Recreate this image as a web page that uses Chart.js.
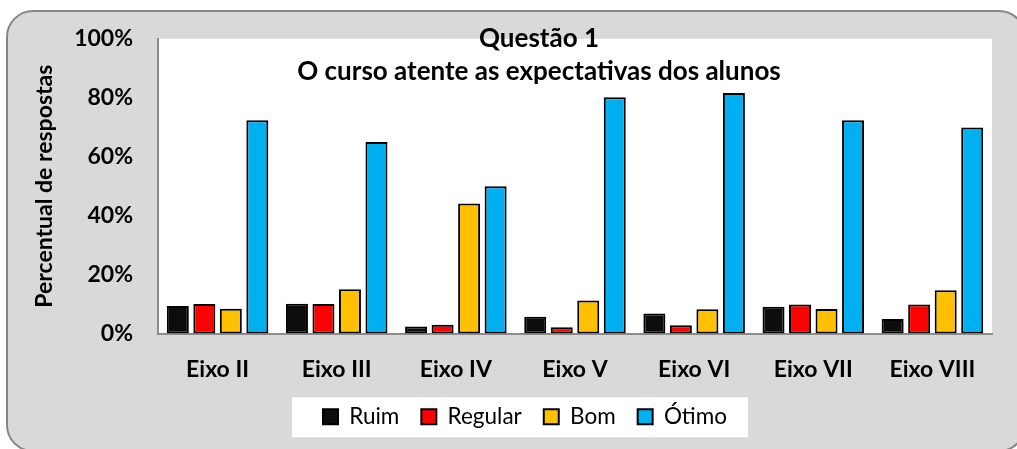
<!DOCTYPE html>
<html lang="pt">
<head>
<meta charset="utf-8">
<title>Questão 1</title>
<script src="https://cdn.jsdelivr.net/npm/chart.js@4/dist/chart.umd.min.js"></script>
<style>
  html, body { margin: 0; padding: 0; background: #fff; }
  #wrap { position: relative; width: 1017px; height: 449px; }
</style>
</head>
<body>
<div id="wrap"><canvas id="chart"></canvas></div>
<script>
// categories and series (percent of answers)
const eixos = ['Eixo II', 'Eixo III', 'Eixo IV', 'Eixo V', 'Eixo VI', 'Eixo VII', 'Eixo VIII']
const ruim = [9.3, 10.1, 2.4, 5.7, 6.8, 9.1, 4.9]
const regular = [10, 10, 3.0, 2.1, 2.8, 9.8, 9.8]
const bom = [8.4, 15, 44.1, 11.2, 8.2, 8.3, 14.7]
const otimo = [72.4, 65, 50, 80.2, 81.6, 72.4, 69.9]
const yTicks = [0, 20, 40, 60, 80, 100]
const titleLines = ['Questão 1', 'O curso atente as expectativas dos alunos']

const FONT = 'Lato, "Open Sans", sans-serif'

// grey rounded frame + white plot area + white legend box
const framePlugin = {
  id: 'frame',
  afterLayout(chart) {
    // legend sits a bit right of the canvas centre in the original
    const lg = chart.legend
    if (lg) { lg.left += 25; lg.right += 25 }
  },
  beforeDraw(chart) {
    const ctx = chart.ctx
    const a = chart.chartArea
    ctx.save()
    ctx.beginPath()
    ctx.roundRect(7, 11, 1018, 440, 26)
    ctx.fillStyle = '#d9d9d9'
    ctx.fill()
    ctx.lineWidth = 2
    ctx.strokeStyle = '#868686'
    ctx.stroke()
    ctx.fillStyle = '#ffffff'
    ctx.fillRect(a.left, a.top, a.right - a.left, a.bottom - a.top)

    const boxes = chart.legend && chart.legend.legendHitBoxes
    if (boxes && boxes.length) {
      const first = boxes[0]
      const last = boxes[boxes.length - 1]
      const cy = first.top + first.height / 2
      ctx.fillRect(first.left - 31, cy - 19.5, last.left + last.width - first.left + 52, 40)
    }
    ctx.restore()
  }
}

// two-line title drawn over the top of the plot
const titlePlugin = {
  id: 'twoLineTitle',
  afterDraw(chart) {
    const ctx = chart.ctx
    const x = chart.chartArea.left + 381
    ctx.save()
    ctx.font = 'bold 26px ' + FONT
    ctx.fillStyle = '#000'
    ctx.textAlign = 'center'
    ctx.textBaseline = 'alphabetic'
    ctx.fillText(titleLines[0], x, 47)
    ctx.fillText(titleLines[1], x, 80)
    ctx.restore()
  }
}

const barStyle = {
  borderColor: '#000000',
  borderWidth: 2,
  borderSkipped: false,
  categoryPercentage: 0.89,
  barPercentage: 0.83
}

new Chart(document.getElementById('chart'), {
  type: 'bar',
  data: {
    labels: eixos,
    datasets: [
      { label: 'Ruim', data: ruim, backgroundColor: '#0d0d0d', ...barStyle },
      { label: 'Regular', data: regular, backgroundColor: '#ff0000', ...barStyle },
      { label: 'Bom', data: bom, backgroundColor: '#ffc000', ...barStyle },
      { label: 'Ótimo', data: otimo, backgroundColor: '#00b0f0', ...barStyle }
    ]
  },
  plugins: [framePlugin, titlePlugin],
  options: {
    responsive: true,
    maintainAspectRatio: false,
    animation: false,
    layout: { padding: { left: 8, right: 25, top: 35, bottom: 11 } },
    plugins: {
      title: { display: false },
      tooltip: { enabled: false },
      legend: {
        position: 'bottom',
        labels: {
          color: '#000',
          boxWidth: 15,
          boxHeight: 15,
          padding: 22,
          font: { family: FONT, size: 22.5 }
        }
      }
    },
    scales: {
      x: {
        grid: { display: false, drawTicks: false },
        border: { display: true, color: '#8c8c8c', width: 2 },
        ticks: {
          color: '#000',
          padding: 22,
          maxRotation: 0,
          font: { family: FONT, size: 23, weight: 'bold' }
        },
        afterFit(axis) { axis.height = 50 }
      },
      y: {
        min: 0,
        max: 100,
        afterBuildTicks(axis) { axis.ticks = yTicks.map(v => ({ value: v })) },
        grid: { display: false, drawTicks: false },
        border: { display: true, color: '#8c8c8c', width: 2 },
        ticks: {
          color: '#000',
          padding: 25,
          callback: v => v + '%',
          font: { family: FONT, size: 23, weight: 'bold' }
        },
        title: {
          display: true,
          text: 'Percentual de respostas',
          color: '#000',
          padding: { top: 23, bottom: 0 },
          font: { family: FONT, size: 23, weight: 'bold' }
        },
        afterFit(axis) { axis.width = 150 }
      }
    }
  }
})
</script>
</body>
</html>
